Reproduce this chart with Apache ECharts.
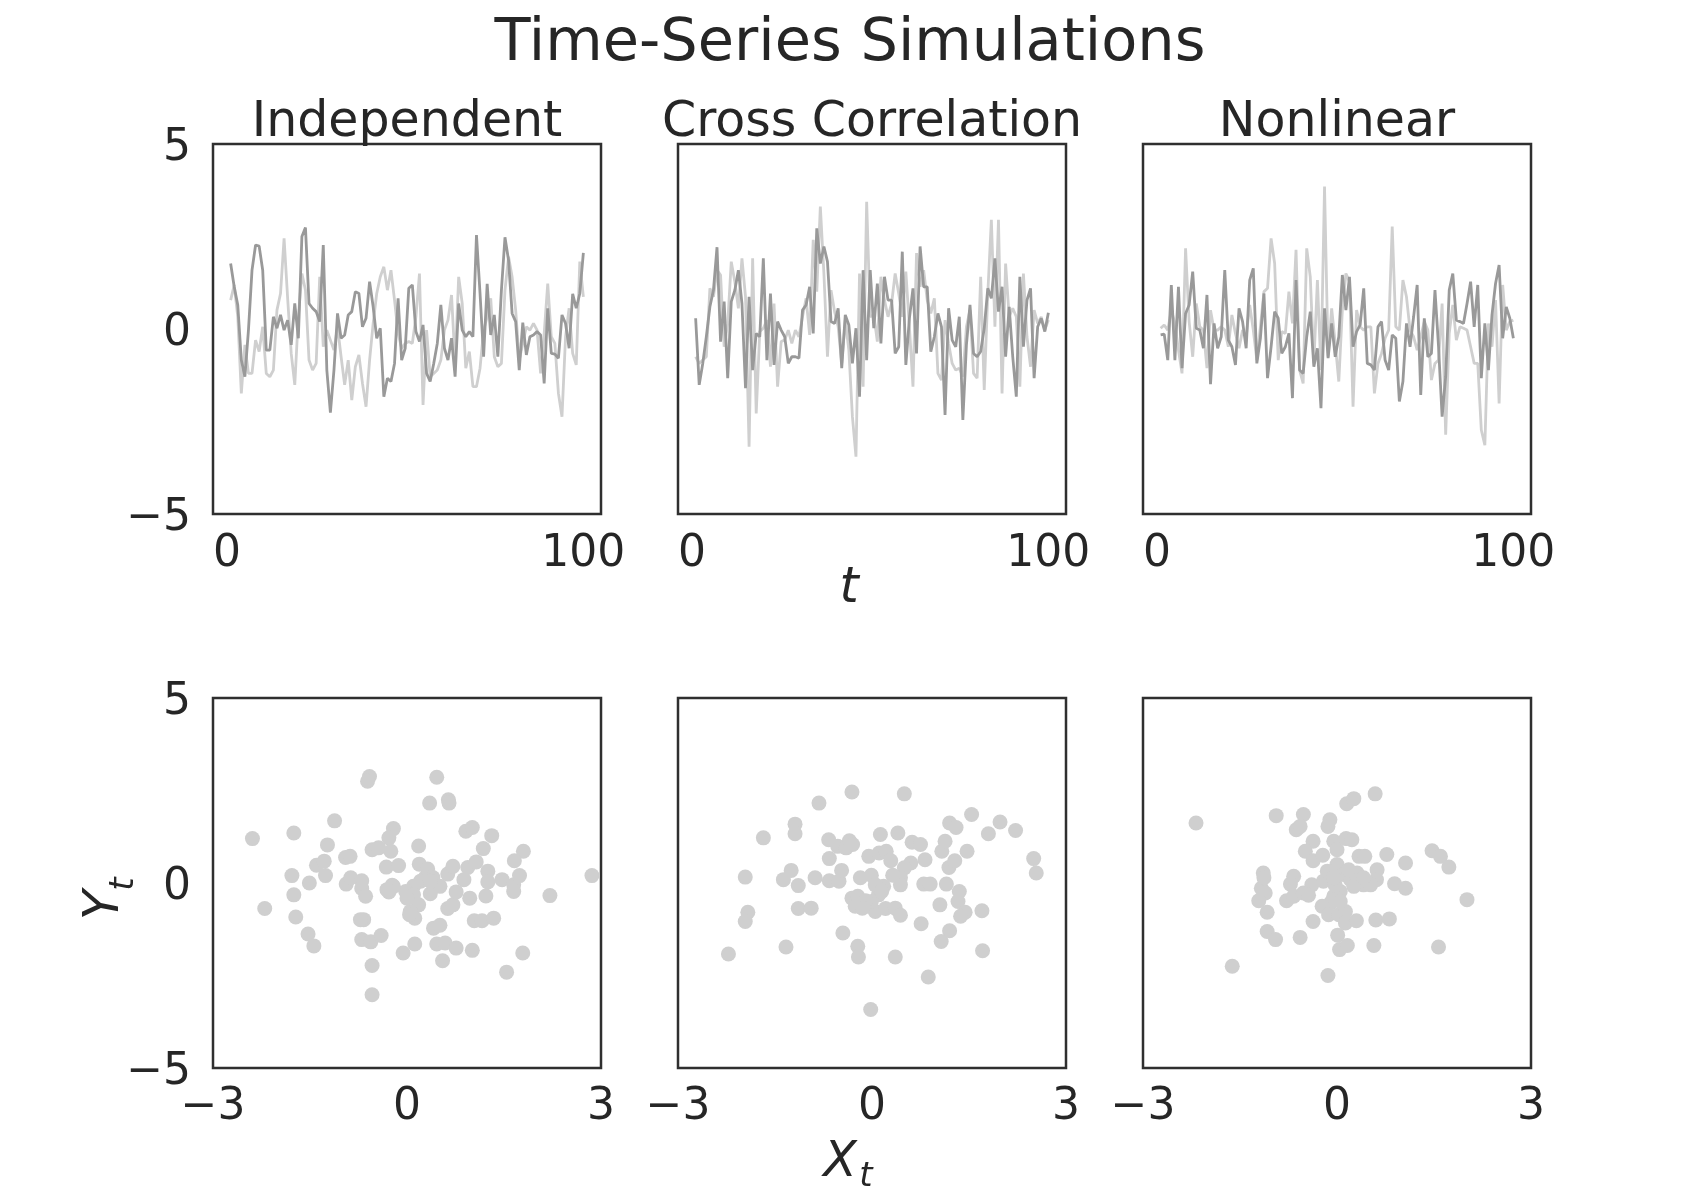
<!DOCTYPE html>
<html><head><meta charset="utf-8">
<script src="https://cdn.jsdelivr.net/npm/echarts@6/dist/echarts.min.js"></script>
<style>html,body{margin:0;padding:0;background:#fff}#c{width:1700px;height:1200px}</style>
</head><body><div id="c"></div>
<script>
// ---------------- DATA ----------------
const figTitle = 'Time-Series Simulations';
const panelTitles = ['Independent', 'Cross Correlation', 'Nonlinear'];
const timeSteps = [1,2,3,4,5,6,7,8,9,10,11,12,13,14,15,16,17,18,19,20,21,22,23,24,25,26,27,28,29,30,31,32,33,34,35,36,37,38,39,40,41,42,43,44,45,46,47,48,49,50,51,52,53,54,55,56,57,58,59,60,61,62,63,64,65,66,67,68,69,70,71,72,73,74,75,76,77,78,79,80,81,82,83,84,85,86,87,88,89,90,91,92,93,94,95,96,97,98,99,100];
const topXTicks = [0, 100];
const bottomXTicks = [-3, 0, 3];
const yTicks = [-5, 0, 5];

// Independent: light (X) and dark (Y) series
const indepLight = [0.78,1.19,0.33,-1.74,-0.43,-1.20,-1.20,-0.30,-0.61,0.06,-1.20,-1.29,-1.11,0.51,0.96,2.45,0.83,-0.66,-1.51,0.33,1.50,1.05,-0.84,-1.11,-0.93,1.41,-0.48,-0.03,-0.30,-0.57,0.06,-0.75,-1.51,-0.84,-1.92,-1.02,-0.70,-1.47,-2.10,-0.84,0.15,0.96,1.41,1.68,1.05,1.59,0.78,-0.12,-0.52,-0.39,-0.34,-0.39,0.33,1.50,-2.05,-0.03,-1.29,-1.20,-1.11,-0.84,-0.03,0.24,0.92,-0.93,1.41,0.69,-1.06,-0.61,-1.56,-1.56,-1.06,-0.03,0.33,0.83,-0.75,-1.02,-0.93,1.05,1.95,1.41,0.51,-0.84,-0.39,0.06,-0.03,0.15,-0.03,-1.20,-0.12,1.23,-0.21,-0.39,-1.74,-2.37,-0.21,0.56,-0.66,-0.97,1.82,0.87];
const indepDark = [1.77,1.14,0.65,-0.84,-1.29,-0.03,1.59,2.27,2.24,1.59,-0.57,-0.57,0.33,0.02,0.38,-0.03,0.24,-0.43,0.69,-0.25,2.50,2.74,0.69,0.56,0.47,0.20,2.27,-1.11,-2.26,-1.11,0.42,-0.25,-0.16,0.38,0.47,1.01,0.96,0.06,0.29,1.28,0.60,-0.25,0.02,-1.83,-1.33,-1.42,-0.93,0.83,-0.84,-0.52,1.10,1.19,-0.07,-0.34,0.11,-1.20,-1.42,-0.93,-0.39,0.65,-0.52,-0.84,-0.25,-1.29,0.69,-0.03,-0.21,-0.07,-0.21,2.54,0.96,-0.75,1.22,-0.16,0.38,-0.75,1.05,2.48,1.86,0.42,0.20,-1.11,0.17,-0.70,-0.21,-0.16,-0.07,-0.16,-1.47,0.56,-0.66,-0.68,-0.79,0.38,0.15,-0.52,0.95,0.56,0.96,2.06];

// Cross correlation
const crossLight = [-0.75,-0.93,-0.84,-0.75,1.10,0.87,1.59,1.46,-0.48,0.15,1.82,1.28,0.56,1.91,0.87,-3.18,1.91,-2.28,-0.07,0.02,0.24,-1.02,0.69,-1.56,-0.34,-0.30,-0.03,-0.39,-0.03,-0.21,0.33,0.83,-0.16,2.41,1.01,3.31,1.50,-0.75,1.05,0.47,0.06,-0.93,0.24,-0.57,-2.37,-3.45,1.50,-1.56,3.44,0.33,0.38,-0.34,1.41,0.78,0.33,0.69,1.50,0.96,0.33,1.55,0.06,-1.56,2.05,1.14,1.59,0.78,0.42,0.83,-1.20,-1.38,0.24,-0.39,-0.93,-1.11,-1.06,-1.29,0.06,0.51,-1.20,-1.33,1.41,-1.65,0.96,2.95,0.06,2.95,-1.74,1.77,0.33,0.56,0.33,-1.56,1.50,-0.21,-1.02,0.51,0.15,0.33,-0.03,0.24];
const crossDark = [0.29,-1.51,-0.93,-0.21,0.60,1.05,2.21,-0.34,0.74,-1.33,0.74,1.05,1.59,0.69,-1.60,0.87,-1.11,-0.12,-0.21,1.91,-0.84,0.96,-0.97,0.20,-0.03,-0.21,-0.93,-0.75,-0.75,-0.79,0.51,0.65,1.14,-0.12,2.72,1.77,2.23,1.82,0.20,0.15,0.56,-1.06,0.38,0.11,-0.93,0.02,-1.83,1.59,-0.84,1.59,0.02,1.23,-0.39,1.41,0.78,0.78,-0.66,-0.48,2.09,-0.97,0.29,1.10,-0.66,2.23,1.14,1.14,-0.61,-0.21,0.42,0.06,-2.32,0.56,-0.30,-0.48,0.33,-2.46,-0.43,0.65,-0.66,-0.75,-0.61,0.02,1.10,0.83,1.91,0.47,1.14,-0.75,0.60,-0.75,-1.83,1.41,-0.48,0.78,1.10,-1.33,0.06,0.29,-0.07,0.44];

// Nonlinear
const nonlinLight = [0.02,0.11,-0.03,0.51,0.15,-0.57,-1.20,2.18,0.20,-0.75,0.69,0.06,-0.03,-1.06,0.51,-0.03,-0.03,0.06,-0.03,-0.48,0.38,-0.12,-0.52,-0.03,-0.21,0.65,-0.03,-0.84,0.06,1.01,1.10,2.45,1.77,-0.84,-0.07,-0.12,1.01,0.15,2.14,-1.11,-1.47,2.18,1.41,-0.93,1.32,-1.11,3.85,-0.75,0.56,-0.39,-1.42,0.51,1.50,1.28,-2.10,0.51,0.06,-0.03,0.06,0.06,-1.74,-0.93,-0.66,-0.25,-0.03,2.77,0.06,-0.03,1.32,0.87,-0.03,-0.21,-0.57,-0.21,0.20,-0.03,-1.38,-0.93,-0.84,0.69,-2.86,-0.12,0.65,-0.30,0.06,0.02,-0.03,-0.48,-0.93,-0.93,-2.73,-3.14,0.15,-0.48,0.78,-2.01,1.19,-0.03,0.20,0.24];
const nonlinDark = [-0.16,-0.14,-0.84,1.19,-0.84,1.14,-1.06,0.42,0.65,1.55,0.02,-0.03,-0.52,0.92,-1.49,0.15,-0.52,-0.21,1.59,-0.30,-0.48,-0.97,0.56,0.20,-0.52,1.32,1.64,-0.93,-0.25,0.96,-1.33,-0.48,0.47,0.29,-0.66,-0.48,-0.12,-1.87,1.32,-1.11,-1.20,-0.21,0.47,-1.02,-0.52,-2.14,0.56,-0.79,0.15,-0.75,-0.21,1.46,0.51,1.41,-0.48,-0.07,0.11,1.10,-0.93,-0.97,-1.11,0.06,0.20,-0.84,-1.11,-0.16,-0.25,-1.96,-1.42,0.15,-0.48,0.33,1.19,-1.78,0.29,-0.75,-0.66,1.05,-0.48,-2.37,-1.29,1.05,1.50,0.24,0.20,0.15,0.69,1.28,0.06,1.19,-1.33,0.15,-1.11,0.38,1.23,1.73,-0.25,0.60,0.29,-0.25];

// Scatter (X_t, Y_t)
const scatterIndep = [[-2.39,1.20],[-1.75,1.35],[-1.12,1.68],[-0.58,2.88],[-0.61,2.75],[0.46,2.86],[0.35,2.16],[0.64,2.25],[0.65,2.16],[-0.21,1.47],[-0.28,1.22],[-1.23,1.03],[0.18,1.00],[0.91,1.40],[1.01,1.50],[1.31,1.28],[1.18,0.93],[1.80,0.86],[1.66,0.60],[-0.54,0.90],[-0.44,0.95],[-0.25,0.86],[-0.95,0.69],[-0.88,0.72],[-1.40,0.48],[-1.28,0.59],[-1.78,0.20],[-1.51,0.00],[-1.26,0.20],[-1.75,-0.32],[-2.20,-0.69],[-1.72,-0.92],[-1.53,-1.38],[-1.44,-1.70],[-0.94,-0.03],[-0.87,0.14],[-0.70,0.06],[-0.70,-0.15],[-0.64,-0.36],[-0.32,0.43],[-0.13,0.47],[-0.23,-0.06],[-0.28,-0.24],[0.19,0.51],[0.32,0.38],[0.28,0.14],[0.21,0.05],[0.10,-0.09],[-0.02,-0.23],[0.10,-0.32],[0.36,-0.29],[0.51,-0.09],[0.18,-0.59],[0.05,-0.77],[0.12,-0.95],[0.04,-0.86],[-0.67,-0.99],[-0.72,-0.99],[-0.70,-1.53],[-0.56,-1.59],[-0.40,-1.42],[-0.54,-2.23],[-0.54,-3.02],[-0.06,-1.89],[0.12,-1.65],[0.41,-1.22],[0.51,-1.14],[0.46,-1.65],[0.59,-1.62],[0.55,-2.10],[0.76,-1.76],[1.01,-1.82],[0.63,-0.69],[0.71,-0.59],[0.76,-0.24],[0.97,-0.41],[0.63,0.24],[0.71,0.45],[0.88,0.09],[0.94,0.42],[1.07,0.57],[1.25,0.32],[1.25,0.03],[1.22,-0.35],[1.47,0.09],[1.65,-0.05],[1.65,-0.23],[1.74,0.20],[1.04,-1.02],[1.16,-1.02],[1.34,-0.95],[1.79,-1.89],[1.54,-2.41],[2.21,-0.34],[2.86,0.20],[0.40,0.15],[0.00,-0.41],[0.36,0.05],[-0.21,-0.09],[-0.31,-0.18]];
const scatterCross = [[-2.22,-1.92],[-1.96,0.16],[-1.92,-0.79],[-1.96,-1.04],[-1.68,1.22],[-1.33,-1.73],[-1.19,1.59],[-1.19,1.33],[-1.25,0.34],[-1.37,0.09],[-1.14,-0.07],[-1.14,-0.69],[-0.94,-0.68],[-0.88,0.14],[-0.82,2.16],[-0.67,1.17],[-0.66,0.66],[-0.66,0.06],[-0.51,0.05],[-0.47,0.34],[-0.53,0.99],[-0.40,0.95],[-0.35,1.14],[-0.30,1.04],[-0.31,2.46],[-0.45,-1.35],[-0.22,-1.71],[-0.21,-2.00],[-0.02,-3.42],[0.36,-2.00],[0.87,-2.54],[0.76,-1.10],[-0.18,0.14],[-0.01,0.21],[-0.05,0.72],[0.13,1.31],[0.11,0.81],[0.22,0.86],[0.29,0.60],[0.40,1.35],[0.50,2.41],[0.62,1.10],[0.75,1.04],[0.60,0.54],[0.50,0.41],[0.44,0.14],[0.44,-0.05],[0.32,0.21],[0.18,-0.09],[0.10,-0.32],[-0.31,-0.41],[-0.22,-0.36],[-0.26,-0.63],[-0.10,-0.63],[0.05,-0.77],[0.21,-0.69],[0.36,-0.68],[0.44,-0.87],[-0.01,-0.50],[0.82,0.63],[0.80,-0.03],[0.90,-0.03],[1.15,-0.03],[1.05,-0.59],[1.19,0.42],[1.28,0.60],[1.08,0.86],[1.13,1.13],[1.20,1.62],[1.30,1.50],[1.47,0.86],[1.54,1.85],[1.35,-0.23],[1.33,-0.50],[1.44,-0.79],[1.37,-0.90],[1.20,-1.29],[1.07,-1.58],[1.70,-0.75],[1.71,-1.83],[1.80,1.33],[1.98,1.65],[2.22,1.42],[2.50,0.66],[2.54,0.27],[0.05,-0.05],[0.15,-0.23],[-0.10,-0.48],[-0.15,-0.68]];
const scatterNonlin = [[-2.18,1.62],[-1.62,-2.25],[-0.94,1.82],[-0.52,1.85],[-0.63,1.44],[-0.57,1.53],[-0.11,1.71],[-0.14,1.53],[0.15,2.14],[0.26,2.28],[0.59,2.41],[-0.37,1.13],[-0.05,1.13],[0.00,0.90],[0.14,1.20],[0.23,1.17],[-0.49,0.86],[-0.37,0.60],[-0.22,0.75],[0.34,0.72],[0.43,0.72],[0.77,0.77],[1.06,0.54],[1.47,0.87],[1.60,0.72],[1.73,0.43],[2.01,-0.45],[-1.14,0.27],[-1.17,-0.14],[-1.11,-0.27],[-1.21,-0.48],[-1.08,-0.79],[-1.08,-1.31],[-0.95,-1.53],[-0.67,0.18],[-0.72,-0.03],[-0.78,-0.48],[-0.67,-0.36],[-0.52,-0.27],[-0.39,-0.05],[-0.44,-0.33],[-0.21,0.05],[-0.10,0.27],[0.00,0.50],[0.10,0.23],[0.21,0.09],[0.31,0.27],[0.41,-0.05],[0.26,-0.09],[0.62,0.36],[0.61,0.09],[0.89,-0.02],[1.06,-0.14],[0.05,-0.23],[-0.05,-0.36],[-0.10,-0.54],[-0.23,-0.63],[-0.13,-0.86],[0.03,-0.86],[0.13,-0.77],[0.13,-1.08],[0.30,-1.02],[-0.37,-1.04],[-0.57,-1.47],[0.01,-1.41],[0.04,-1.80],[0.16,-1.69],[0.57,-1.69],[0.60,-1.00],[0.81,-0.97],[-0.14,-2.50],[1.57,-1.73],[-0.03,-0.05],[0.05,-0.50],[-1.13,0.14],[0.52,-0.05],[0.41,0.14],[-0.15,0.32],[0.18,0.36],[-0.05,0.14]];

// ---------------- CHART ----------------
const FONT = '"DejaVu Sans", "Liberation Sans", sans-serif';
const TXT = '#262626';
const LIGHT = '#cfcfcf';
const DARK = '#999999';
const lefts = [213, 678, 1143];
const PW = 388, PH = 370;
const topRow = 144, botRow = 698;
const fmt = v => String(v).replace('-', '\u2212');

const grids = [], xAxes = [], yAxes = [], series = [];
const lineSets = [[indepLight, indepDark], [crossLight, crossDark], [nonlinLight, nonlinDark]];
const scatSets = [scatterIndep, scatterCross, scatterNonlin];

function mkY(gi, showLabels) {
  return {
    type: 'value', gridIndex: gi, min: -5, max: 5, interval: 5,
    axisLine: {show: false}, axisTick: {show: false}, splitLine: {show: false},
    axisLabel: {show: showLabels, formatter: fmt, fontSize: 44, fontFamily: FONT, color: TXT, margin: 22,
      verticalAlign: 'top', lineHeight: 9, customValues: yTicks}
  };
}
for (let i = 0; i < 3; i++) {
  grids.push({left: lefts[i], top: topRow, width: PW, height: PH, show: true, borderColor: '#2f2f2f', borderWidth: 2.5, backgroundColor: '#fff'});
}
for (let i = 0; i < 3; i++) {
  grids.push({left: lefts[i], top: botRow, width: PW, height: PH, show: true, borderColor: '#2f2f2f', borderWidth: 2.5, backgroundColor: '#fff'});
}
for (let i = 0; i < 3; i++) {
  xAxes.push({type: 'value', gridIndex: i, min: -3.95, max: 104.95,
    axisLine: {show: false}, axisTick: {show: false}, splitLine: {show: false},
    axisLabel: {customValues: topXTicks, formatter: fmt, fontSize: 44, fontFamily: FONT, color: TXT, margin: 19}});
  yAxes.push(mkY(i, i === 0));
}
for (let i = 0; i < 3; i++) {
  xAxes.push({type: 'value', gridIndex: 3 + i, min: -3, max: 3, interval: 3,
    axisLine: {show: false}, axisTick: {show: false}, splitLine: {show: false},
    axisLabel: {showMinLabel: true, showMaxLabel: true, customValues: bottomXTicks, formatter: fmt, fontSize: 44, fontFamily: FONT, color: TXT, margin: 18}});
  yAxes.push(mkY(3 + i, i === 0));
}
for (let i = 0; i < 3; i++) {
  const [lt, dk] = lineSets[i];
  series.push({type: 'line', xAxisIndex: i, yAxisIndex: i, showSymbol: false, symbol: 'none',
    data: lt.map((v, k) => [timeSteps[k], v]), lineStyle: {color: LIGHT, width: 2.8}, z: 2, animation: false});
  series.push({type: 'line', xAxisIndex: i, yAxisIndex: i, showSymbol: false, symbol: 'none',
    data: dk.map((v, k) => [timeSteps[k], v]), lineStyle: {color: DARK, width: 2.8}, z: 3, animation: false});
  series.push({type: 'scatter', xAxisIndex: 3 + i, yAxisIndex: 3 + i, data: scatSets[i], symbolSize: 15,
    itemStyle: {color: LIGHT, opacity: 1}, animation: false});
}

const txt = (text, x, y, size, extra) => Object.assign({type: 'text', x: x, y: y, z: 10,
  style: Object.assign({text: text, fontSize: size, fontFamily: FONT, fill: TXT, align: 'center', verticalAlign: 'middle'}, extra || {})});
const graphics = [
  txt(figTitle, 850, 45, 59),
  txt(panelTitles[0], lefts[0] + PW / 2, 123.5, 49),
  txt(panelTitles[1], lefts[1] + PW / 2, 123.5, 49),
  txt(panelTitles[2], lefts[2] + PW / 2, 123.5, 49),
  txt('t', 849, 589, 49, {fontStyle: 'italic'}),
  txt('X', 840, 1163, 49, {fontStyle: 'italic'}),
  txt('t', 866, 1177, 34, {fontStyle: 'italic'}),
  Object.assign(txt('Y', 105, 905, 49, {fontStyle: 'italic'}), {rotation: Math.PI / 2}),
  Object.assign(txt('t', 124, 884, 34, {fontStyle: 'italic'}), {rotation: Math.PI / 2})
];

const chart = echarts.init(document.getElementById('c'), null, {renderer: 'canvas'});
chart.setOption({
  backgroundColor: '#ffffff', animation: false,
  grid: grids, xAxis: xAxes, yAxis: yAxes, series: series, graphic: graphics
});
</script></body></html>
